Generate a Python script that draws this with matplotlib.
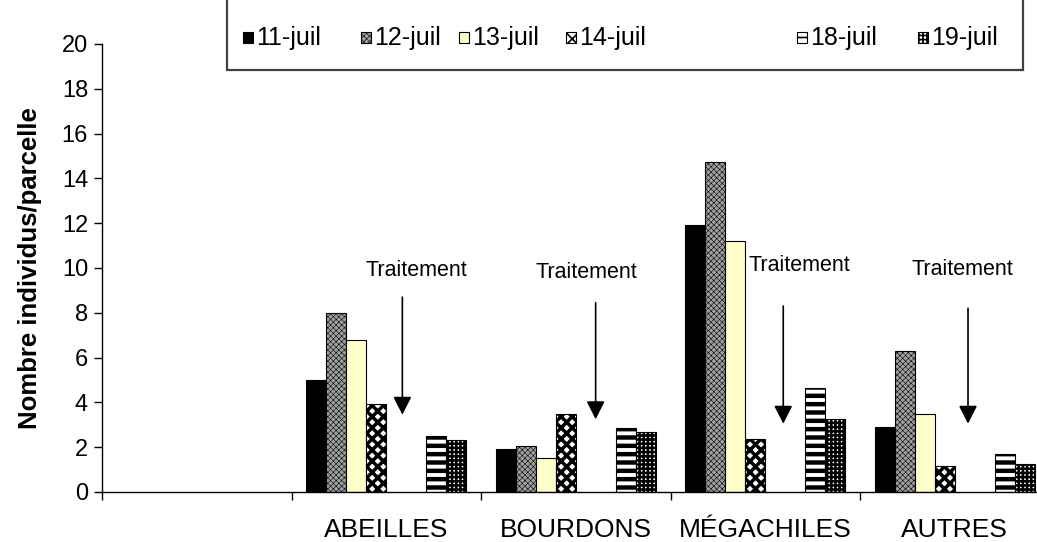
import matplotlib
matplotlib.use("Agg")
import matplotlib.pyplot as plt
from matplotlib.patches import Rectangle
import numpy as np

plt.rcParams['font.family'] = ['Liberation Sans', 'DejaVu Sans']

# ---- data -------------------------------------------------------------
categories = ["", "ABEILLES", "BOURDONS", "MÉGACHILES", "AUTRES"]
dates = ["11-juil", "12-juil", "13-juil", "14-juil", "18-juil", "19-juil"]
# one value per category (the first, unnamed category is empty)
v_11 = [np.nan, 5.0, 1.9, 11.9, 2.9]
v_12 = [np.nan, 8.0, 2.05, 14.75, 6.3]
v_13 = [np.nan, 6.8, 1.5, 11.2, 3.5]
v_14 = [np.nan, 3.95, 3.5, 2.35, 1.17]
v_18 = [np.nan, 2.5, 2.85, 4.65, 1.7]
v_19 = [np.nan, 2.3, 2.7, 3.25, 1.27]
series = [v_11, v_12, v_13, v_14, v_18, v_19]
# bar slots inside each group: two empty slots sit between 14 and 18 juil
slots = ["11-juil", "12-juil", "13-juil", "14-juil", None, None, "18-juil", "19-juil"]

y_ticks = list(range(0, 21, 2))

# treatment markers (category position, text height, arrow top, arrow tip)
trt_label = "Traitement"
trt_x_arrow = [1.085, 2.105, 3.095, 4.07]
trt_x_text = [1.16, 2.055, 3.18, 4.04]
trt_y_text = [9.9, 9.8, 10.1, 9.95]
trt_y_top = [8.7, 8.45, 8.3, 8.2]
trt_y_tip = [3.45, 3.25, 3.05, 3.05]

# ---- styles -------------------------------------------------------------
styles = {
    "11-juil": dict(facecolor="black", hatch=None, hlw=1.0),
    "12-juil": dict(facecolor="#a0a0a0", hatch="xxxxxx", hlw=0.4),
    "13-juil": dict(facecolor="#ffffcc", hatch=None, hlw=1.0),
    "14-juil": dict(facecolor="white", hatch="xxx", hlw=2.5),
    "18-juil": dict(facecolor="white", hatch="--", hlw=3.2),
    "19-juil": dict(facecolor="white", hatch="++++", hlw=1.8),
}

W, H, DPI = 1037, 542, 100
fig = plt.figure(figsize=(W / DPI, H / DPI), dpi=DPI)

ax_left, ax_bottom, ax_top = 102, 492, 44
cat_px = 189.5
ax = fig.add_axes([ax_left / W, 1 - ax_bottom / H,
                   len(categories) * cat_px / W, (ax_bottom - ax_top) / H])

n_slots = len(slots)
bar_w = 20 / cat_px
x = np.arange(len(categories))


def style_bars(container, st):
    for p in container.patches:
        if st["hatch"]:
            p.set_hatch(st["hatch"])
            if hasattr(p, "set_hatch_linewidth"):
                p.set_hatch_linewidth(st["hlw"])


for name, vals in zip(dates, series):
    st = styles[name]
    k = slots.index(name)
    offs = (k - (n_slots - 1) / 2) * bar_w
    with plt.rc_context({"hatch.linewidth": st["hlw"]}):
        bars = ax.bar(x + offs, vals, width=bar_w, facecolor=st["facecolor"],
                      edgecolor="black", linewidth=0.8, label=name)
        style_bars(bars, st)

# treatment arrows
for xa, xt, yt, ytop, ytip in zip(trt_x_arrow, trt_x_text, trt_y_text,
                                  trt_y_top, trt_y_tip):
    ax.text(xt, yt, trt_label, ha="center", va="center", fontsize=15.5)
    ax.annotate("", xy=(xa, ytip), xytext=(xa, ytop),
                arrowprops=dict(arrowstyle="-|>,head_length=0.55,head_width=0.28",
                                mutation_scale=20, color="black", lw=1.2,
                                shrinkA=0, shrinkB=0))

# axes
ax.set_xlim(-0.5, len(categories) - 0.5)
ax.set_ylim(0, 20)
ax.set_yticks(y_ticks)
ax.set_yticklabels([str(t) for t in y_ticks])
ax.tick_params(axis="y", direction="out", length=6, width=1, labelsize=17, pad=4)

ax.set_xticks(x)
ax.set_xticklabels(categories)
ax.set_xticks(np.arange(len(categories) + 1) - 0.5, minor=True)
ax.tick_params(axis="x", which="major", length=0, labelsize=19, pad=19)
ax.tick_params(axis="x", which="minor", direction="out", length=6, width=1)

for s in ("top", "right"):
    ax.spines[s].set_visible(False)
for s in ("left", "bottom"):
    ax.spines[s].set_linewidth(1.0)

ax.set_ylabel("Nombre individus/parcelle", fontsize=18.5, fontweight="bold")
ax.yaxis.set_label_coords((42 - ax_left) / (len(categories) * cat_px), 0.5)

# legend box drawn in figure pixels
def fx(px):
    return px / W


def fy(py):
    return 1 - py / H


fig.add_artist(Rectangle((fx(227), fy(70)), fx(1023) - fx(227), fy(-5) - fy(70),
                         transform=fig.transFigure, facecolor="white",
                         edgecolor="#404040", linewidth=1.6, zorder=5))
leg_px = [248, 366, 464, 571, 802, 923]
for name, cx in zip(dates, leg_px):
    st = styles[name]
    with plt.rc_context({"hatch.linewidth": min(st["hlw"], 1.2)}):
        r = Rectangle((fx(cx - 5), fy(43)), fx(10), fy(32) - fy(43),
                      transform=fig.transFigure, facecolor=st["facecolor"],
                      edgecolor="black", linewidth=0.8, zorder=6,
                      hatch=st["hatch"])
    fig.add_artist(r)
    fig.text(fx(cx + 8), fy(37.5), name, ha="left", va="center",
             fontsize=18, zorder=7)

fig.savefig("out.png", dpi=DPI)
